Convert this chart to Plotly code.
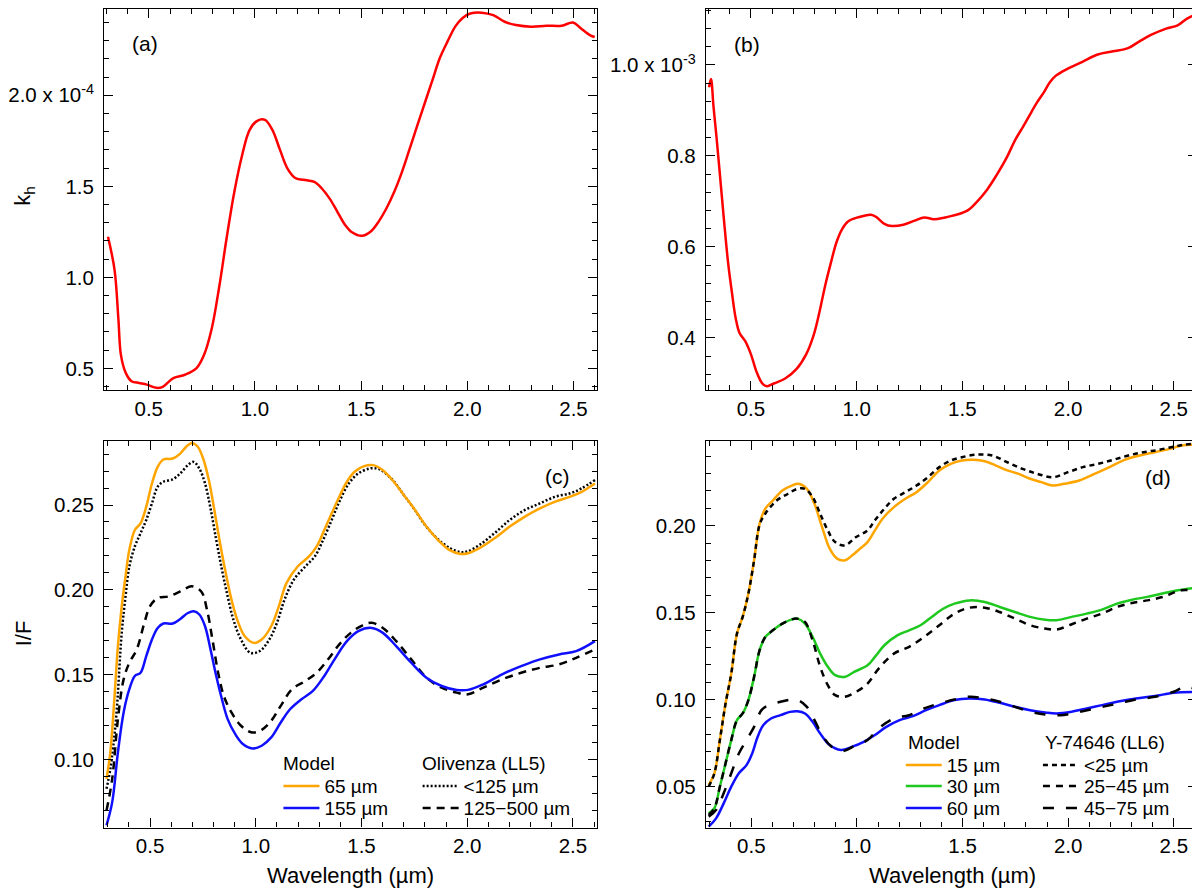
import plotly.graph_objects as go

# ---- panel (a): k_h (units of 1e-4) ----
wl_a = [0.308, 0.339, 0.357, 0.369, 0.392, 0.419, 0.455, 0.491, 0.536, 0.563, 0.616, 0.67, 0.724, 0.76,
        0.796, 0.832, 0.867, 0.903, 0.939, 0.975, 1.011, 1.047, 1.082, 1.118, 1.154, 1.19, 1.244, 1.28,
        1.315, 1.351, 1.387, 1.423, 1.459, 1.504, 1.548, 1.584, 1.62, 1.656, 1.692, 1.728, 1.763, 1.799,
        1.835, 1.871, 1.907, 1.943, 1.978, 2.014, 2.068, 2.122, 2.176, 2.229, 2.301, 2.373, 2.444, 2.498,
        2.534, 2.579, 2.6]
kh_a = [1.223, 1.04, 0.77, 0.573, 0.474, 0.429, 0.42, 0.411, 0.393, 0.397, 0.447, 0.465, 0.50, 0.573,
        0.716, 0.95, 1.219, 1.47, 1.668, 1.81, 1.86, 1.865, 1.81, 1.70, 1.596, 1.546, 1.533, 1.524,
        1.488, 1.434, 1.363, 1.291, 1.246, 1.228, 1.255, 1.309, 1.381, 1.47, 1.578, 1.704, 1.829, 1.955,
        2.081, 2.206, 2.296, 2.377, 2.425, 2.449, 2.454, 2.44, 2.404, 2.386, 2.377, 2.382, 2.382, 2.40,
        2.368, 2.329, 2.32]

# ---- panel (b): k_h (units of 1e-3) ----
wl_b = [0.302, 0.311, 0.323, 0.338, 0.356, 0.374, 0.392, 0.41, 0.428, 0.446, 0.473, 0.5, 0.527, 0.554,
        0.576, 0.608, 0.662, 0.716, 0.761, 0.797, 0.824, 0.851, 0.878, 0.905, 0.932, 0.959, 1.005, 1.068,
        1.095, 1.131, 1.167, 1.221, 1.275, 1.32, 1.365, 1.419, 1.473, 1.527, 1.572, 1.617, 1.662, 1.707,
        1.752, 1.788, 1.815, 1.851, 1.887, 1.914, 1.941, 1.995, 2.068, 2.14, 2.212, 2.284, 2.338, 2.392,
        2.464, 2.518, 2.563, 2.599]
kh_b = [0.951, 0.969, 0.908, 0.837, 0.744, 0.651, 0.565, 0.50, 0.443, 0.411, 0.393, 0.364, 0.325, 0.30,
        0.294, 0.30, 0.311, 0.332, 0.364, 0.407, 0.457, 0.515, 0.565, 0.611, 0.64, 0.656, 0.665, 0.671,
        0.665, 0.651, 0.646, 0.649, 0.658, 0.665, 0.661, 0.665, 0.671, 0.681, 0.701, 0.726, 0.758, 0.794,
        0.837, 0.865, 0.887, 0.916, 0.941, 0.962, 0.976, 0.991, 1.007, 1.023, 1.03, 1.037, 1.052, 1.066,
        1.08, 1.087, 1.102, 1.11]

# ---- panel (c): Olivenza (LL5) ----
wl_c65 = [0.294, 0.312, 0.33, 0.348, 0.366, 0.384, 0.402, 0.428, 0.455, 0.482, 0.509, 0.536, 0.563, 0.607,
          0.643, 0.67, 0.697, 0.724, 0.751, 0.778, 0.804, 0.831, 0.858, 0.885, 0.912, 0.948, 0.992, 1.028,
          1.073, 1.109, 1.145, 1.198, 1.252, 1.288, 1.324, 1.359, 1.395, 1.431, 1.467, 1.512, 1.556, 1.601,
          1.646, 1.70, 1.753, 1.807, 1.861, 1.915, 1.968, 2.004, 2.058, 2.129, 2.201, 2.273, 2.344, 2.416,
          2.487, 2.541, 2.604]
if_c65 = [0.0887, 0.1043, 0.1336, 0.1669, 0.1903, 0.208, 0.2236, 0.2353, 0.2392, 0.249, 0.2627, 0.2725,
          0.2768, 0.2774, 0.2803, 0.2842, 0.2866, 0.2846, 0.2774, 0.2647, 0.2471, 0.2275, 0.2099, 0.1943,
          0.1825, 0.1727, 0.1688, 0.1708, 0.1786, 0.1903, 0.204, 0.2138, 0.2197, 0.2256, 0.2353, 0.2451,
          0.2549, 0.2637, 0.2696, 0.2729, 0.2735, 0.2705, 0.2647, 0.2559, 0.2471, 0.2373, 0.2295, 0.2236,
          0.2212, 0.2216, 0.2246, 0.2304, 0.2373, 0.2432, 0.248, 0.252, 0.2549, 0.2578, 0.2627]

wl_c155 = [0.294, 0.321, 0.348, 0.375, 0.402, 0.428, 0.455, 0.482, 0.509, 0.536, 0.563, 0.607, 0.643, 0.679,
           0.706, 0.733, 0.76, 0.786, 0.813, 0.84, 0.867, 0.903, 0.939, 0.984, 1.028, 1.073, 1.118, 1.162,
           1.216, 1.27, 1.324, 1.377, 1.431, 1.485, 1.548, 1.601, 1.664, 1.735, 1.807, 1.879, 1.95, 2.004,
           2.076, 2.165, 2.255, 2.344, 2.434, 2.515, 2.604]
if_c155 = [0.0613, 0.075, 0.1043, 0.1278, 0.1415, 0.1493, 0.1512, 0.161, 0.1708, 0.1776, 0.1802, 0.1802,
           0.1829, 0.1864, 0.1874, 0.1855, 0.1786, 0.1649, 0.1493, 0.1356, 0.1239, 0.115, 0.1092, 0.1066,
           0.1082, 0.1131, 0.1219, 0.1297, 0.1356, 0.1405, 0.1493, 0.16, 0.1698, 0.1757, 0.1776, 0.1747,
           0.1669, 0.1571, 0.1483, 0.1434, 0.1411, 0.1411, 0.1444, 0.1503, 0.1551, 0.1591, 0.162, 0.1639,
           0.1698]

wl_c_fine = [0.294, 0.312, 0.339, 0.366, 0.384, 0.402, 0.428, 0.455, 0.482, 0.509, 0.536, 0.563, 0.607,
             0.643, 0.679, 0.706, 0.733, 0.76, 0.786, 0.813, 0.84, 0.867, 0.894, 0.93, 0.974, 1.019, 1.064,
             1.1, 1.136, 1.18, 1.234, 1.279, 1.315, 1.359, 1.395, 1.44, 1.485, 1.538, 1.574, 1.60, 1.65,
             1.70, 1.75, 1.80, 1.86, 1.92, 1.97, 2.0, 2.058, 2.129, 2.201, 2.273, 2.344, 2.416, 2.487,
             2.541, 2.604]
if_c_fine = [0.0828, 0.0945, 0.1239, 0.1747, 0.1962, 0.2138, 0.2256, 0.2334, 0.2412, 0.251, 0.2608, 0.2637,
             0.2651, 0.2686, 0.2735, 0.2754, 0.2715, 0.2627, 0.248, 0.2295, 0.2119, 0.1962, 0.1825, 0.1708,
             0.163, 0.164, 0.1708, 0.1806, 0.1943, 0.206, 0.2138, 0.2197, 0.2285, 0.2412, 0.252, 0.2627,
             0.2686, 0.2715, 0.2715, 0.270, 0.2643, 0.2559, 0.2475, 0.2383, 0.230, 0.2245, 0.2222, 0.2226,
             0.2265, 0.2334, 0.2412, 0.2471, 0.251, 0.2549, 0.2569, 0.2598, 0.2647]

wl_c_coarse = [0.294, 0.321, 0.348, 0.375, 0.402, 0.437, 0.473, 0.5, 0.536, 0.589, 0.643, 0.697, 0.742,
               0.769, 0.795, 0.822, 0.849, 0.885, 0.93, 0.983, 1.028, 1.073, 1.118, 1.171, 1.234, 1.288,
               1.342, 1.395, 1.449, 1.503, 1.548, 1.601, 1.664, 1.735, 1.807, 1.879, 1.95, 2.004, 2.076,
               2.165, 2.255, 2.344, 2.434, 2.515, 2.604]
if_c_coarse = [0.070, 0.0887, 0.1239, 0.1473, 0.1571, 0.1649, 0.1806, 0.1904, 0.1952, 0.1962, 0.1991,
               0.2021, 0.1991, 0.1884, 0.1708, 0.1512, 0.1375, 0.1278, 0.120, 0.116, 0.1176, 0.1229,
               0.1317, 0.1415, 0.1463, 0.1512, 0.1591, 0.1679, 0.1747, 0.179, 0.1806, 0.1776, 0.1698,
               0.1591, 0.1483, 0.1424, 0.1395, 0.1385, 0.1424, 0.1473, 0.1512, 0.1541, 0.1561, 0.160,
               0.1649]

# ---- panel (d): Y-74646 (LL6) ----
wl_d15 = [0.298, 0.325, 0.351, 0.378, 0.405, 0.432, 0.459, 0.486, 0.513, 0.539, 0.566, 0.602, 0.647, 0.692,
          0.724, 0.763, 0.799, 0.835, 0.871, 0.906, 0.942, 0.978, 1.014, 1.05, 1.085, 1.121, 1.175, 1.229,
          1.282, 1.336, 1.39, 1.444, 1.497, 1.551, 1.605, 1.658, 1.712, 1.766, 1.82, 1.873, 1.927, 1.981,
          2.052, 2.124, 2.196, 2.267, 2.339, 2.411, 2.482, 2.536, 2.607]
if_d15 = [0.051, 0.0577, 0.0768, 0.0978, 0.115, 0.138, 0.1476, 0.161, 0.1801, 0.2011, 0.2098, 0.2145,
          0.2203, 0.2231, 0.2241, 0.2212, 0.2126, 0.1992, 0.1868, 0.1811, 0.1801, 0.183, 0.1868, 0.1906,
          0.1973, 0.204, 0.2107, 0.2155, 0.2193, 0.2251, 0.2318, 0.2356, 0.2375, 0.2379, 0.2371, 0.2346,
          0.2318, 0.2298, 0.227, 0.2251, 0.2231, 0.2241, 0.226, 0.2298, 0.2337, 0.2379, 0.2404, 0.2423,
          0.2442, 0.2461, 0.2467]

wl_d30 = [0.298, 0.325, 0.351, 0.378, 0.405, 0.432, 0.459, 0.486, 0.513, 0.539, 0.566, 0.602, 0.647, 0.692,
          0.718, 0.754, 0.79, 0.826, 0.862, 0.897, 0.942, 0.987, 1.05, 1.085, 1.13, 1.193, 1.247, 1.301,
          1.354, 1.408, 1.462, 1.533, 1.605, 1.676, 1.748, 1.82, 1.891, 1.945, 2.017, 2.088, 2.16, 2.231,
          2.303, 2.375, 2.446, 2.518, 2.607]
if_d30 = [0.0347, 0.0376, 0.05, 0.0634, 0.0768, 0.0883, 0.0921, 0.0998, 0.1131, 0.1284, 0.136, 0.1399,
          0.1437, 0.1462, 0.1466, 0.1437, 0.1361, 0.1265, 0.1189, 0.1141, 0.1131, 0.116, 0.1198, 0.1246,
          0.1313, 0.1371, 0.1399, 0.1428, 0.1476, 0.1523, 0.1552, 0.1571, 0.1562, 0.1533, 0.1504, 0.1476,
          0.146, 0.1457, 0.1476, 0.1495, 0.1518, 0.1552, 0.1575, 0.1591, 0.161, 0.1629, 0.1644]

wl_d60 = [0.298, 0.333, 0.369, 0.405, 0.441, 0.477, 0.504, 0.53, 0.557, 0.593, 0.638, 0.683, 0.718, 0.754,
          0.79, 0.826, 0.871, 0.924, 0.978, 1.032, 1.085, 1.139, 1.202, 1.265, 1.327, 1.39, 1.462, 1.533,
          1.605, 1.676, 1.748, 1.82, 1.891, 1.945, 2.017, 2.088, 2.16, 2.231, 2.321, 2.411, 2.5, 2.607]
if_d60 = [0.027, 0.0318, 0.0404, 0.05, 0.0577, 0.0624, 0.0691, 0.0787, 0.0854, 0.0892, 0.0911, 0.093,
          0.0934, 0.0921, 0.0873, 0.0806, 0.0739, 0.0711, 0.073, 0.0758, 0.0797, 0.0844, 0.0883, 0.0906,
          0.094, 0.0969, 0.0998, 0.1007, 0.1001, 0.0982, 0.0959, 0.094, 0.0927, 0.0921, 0.0931, 0.095,
          0.0969, 0.0988, 0.1007, 0.1021, 0.104, 0.1045]

wl_d_lt25 = [0.298, 0.325, 0.351, 0.378, 0.405, 0.432, 0.459, 0.486, 0.513, 0.539, 0.566, 0.62, 0.674,
             0.718, 0.754, 0.79, 0.826, 0.862, 0.897, 0.942, 0.996, 1.05, 1.085, 1.13, 1.175, 1.229, 1.282,
             1.336, 1.39, 1.444, 1.497, 1.569, 1.64, 1.712, 1.784, 1.855, 1.927, 1.999, 2.07, 2.142, 2.214,
             2.285, 2.357, 2.428, 2.5, 2.554, 2.607]
if_d_lt25 = [0.050, 0.0577, 0.0768, 0.0978, 0.115, 0.138, 0.1476, 0.161, 0.1801, 0.2005, 0.2069, 0.2145,
             0.2184, 0.2212, 0.2212, 0.2165, 0.2069, 0.1973, 0.1906, 0.1887, 0.1935, 0.1973, 0.2031,
             0.2098, 0.2155, 0.2193, 0.2231, 0.2279, 0.2337, 0.2375, 0.2394, 0.2409, 0.2404, 0.2365,
             0.2327, 0.2298, 0.2279, 0.2308, 0.2337, 0.2356, 0.2379, 0.2404, 0.2423, 0.2436, 0.2455,
             0.2467, 0.2471]

wl_d_25_45 = [0.298, 0.325, 0.351, 0.378, 0.405, 0.432, 0.459, 0.486, 0.513, 0.539, 0.566, 0.602, 0.647,
              0.692, 0.718, 0.754, 0.79, 0.826, 0.862, 0.897, 0.942, 0.996, 1.05, 1.103, 1.175, 1.247,
              1.318, 1.39, 1.462, 1.533, 1.605, 1.676, 1.748, 1.82, 1.891, 1.945, 2.017, 2.088, 2.16,
              2.231, 2.303, 2.375, 2.446, 2.536, 2.607]
if_d_25_45 = [0.0337, 0.0376, 0.05, 0.0634, 0.0768, 0.0883, 0.0921, 0.0998, 0.1131, 0.1284, 0.136, 0.1399,
              0.1437, 0.1462, 0.1466, 0.1447, 0.1342, 0.1189, 0.1084, 0.1026, 0.1017, 0.1045, 0.1093,
              0.1179, 0.1265, 0.1304, 0.1361, 0.1428, 0.1495, 0.1529, 0.1529, 0.1504, 0.1466, 0.1428,
              0.1409, 0.1403, 0.1434, 0.1466, 0.1495, 0.1533, 0.1556, 0.1571, 0.159, 0.1629, 0.1625]

wl_d_45_75 = [0.298, 0.333, 0.369, 0.405, 0.441, 0.477, 0.513, 0.548, 0.584, 0.638, 0.692, 0.727, 0.763,
              0.799, 0.835, 0.88, 0.933, 0.987, 1.05, 1.103, 1.175, 1.247, 1.318, 1.39, 1.462, 1.533,
              1.605, 1.676, 1.748, 1.82, 1.891, 1.963, 2.035, 2.106, 2.178, 2.249, 2.321, 2.411, 2.5,
              2.554, 2.607]
if_d_45_75 = [0.0328, 0.0366, 0.0462, 0.0577, 0.0691, 0.0768, 0.0844, 0.094, 0.0969, 0.0988, 0.1001,
              0.0994, 0.0959, 0.0883, 0.0797, 0.073, 0.0705, 0.0734, 0.0768, 0.0835, 0.0892, 0.0911,
              0.095, 0.0978, 0.1001, 0.1017, 0.1007, 0.0988, 0.0959, 0.0931, 0.0915, 0.0911, 0.0925,
              0.0944, 0.0963, 0.0982, 0.1001, 0.1017, 0.1046, 0.1074, 0.1059]

ORANGE = "#FFA500"
GREEN = "#1EC81E"
BLUE = "#1010FF"
RED = "#FF0000"
FONT = "Liberation Sans, Arial, sans-serif"
LW = 2.5

# the page body adds an 8px margin, so the figure is a bit smaller and positions are page pixels - 8
W, H = 1192, 880


def px(x):
    return (x - 8) / W


def py(y):
    return 1 - (y - 8) / H


fig = go.Figure()

fig.add_trace(go.Scatter(x=wl_a, y=kh_a, mode="lines", line=dict(color=RED, width=LW, shape="spline"),
                         xaxis="x", yaxis="y", showlegend=False))
fig.add_trace(go.Scatter(x=wl_b, y=kh_b, mode="lines", line=dict(color=RED, width=LW, shape="spline"),
                         xaxis="x2", yaxis="y2", showlegend=False))

# panel (c): each legend row is its own little legend so the rows can be spaced like the original
fig.add_trace(go.Scatter(x=wl_c_fine, y=if_c_fine, mode="lines", name="<125 µm",
                         line=dict(color="black", width=2.5, dash="2px,2px", shape="spline"),
                         xaxis="x3", yaxis="y3", legend="legend3"))
fig.add_trace(go.Scatter(x=wl_c_coarse, y=if_c_coarse, mode="lines", name="125−500 µm",
                         line=dict(color="black", width=2.5, dash="8px,6px", shape="spline"),
                         xaxis="x3", yaxis="y3", legend="legend4"))
fig.add_trace(go.Scatter(x=wl_c65, y=if_c65, mode="lines", name="65 µm",
                         line=dict(color=ORANGE, width=LW, shape="spline"),
                         xaxis="x3", yaxis="y3", legend="legend"))
fig.add_trace(go.Scatter(x=wl_c155, y=if_c155, mode="lines", name="155 µm",
                         line=dict(color=BLUE, width=LW, shape="spline"),
                         xaxis="x3", yaxis="y3", legend="legend2"))

# panel (d)
fig.add_trace(go.Scatter(x=wl_d15, y=if_d15, mode="lines", name="15 µm",
                         line=dict(color=ORANGE, width=LW, shape="spline"),
                         xaxis="x4", yaxis="y4", legend="legend5"))
fig.add_trace(go.Scatter(x=wl_d30, y=if_d30, mode="lines", name="30 µm",
                         line=dict(color=GREEN, width=LW, shape="spline"),
                         xaxis="x4", yaxis="y4", legend="legend6"))
fig.add_trace(go.Scatter(x=wl_d60, y=if_d60, mode="lines", name="60 µm",
                         line=dict(color=BLUE, width=LW, shape="spline"),
                         xaxis="x4", yaxis="y4", legend="legend7"))
fig.add_trace(go.Scatter(x=wl_d_lt25, y=if_d_lt25, mode="lines", name="<25 µm",
                         line=dict(color="black", width=2.5, dash="5px,4px", shape="spline"),
                         xaxis="x4", yaxis="y4", legend="legend8"))
fig.add_trace(go.Scatter(x=wl_d_25_45, y=if_d_25_45, mode="lines", name="25−45 µm",
                         line=dict(color="black", width=2.5, dash="7px,6px", shape="spline"),
                         xaxis="x4", yaxis="y4", legend="legend9"))
fig.add_trace(go.Scatter(x=wl_d_45_75, y=if_d_45_75, mode="lines", name="45−75 µm",
                         line=dict(color="black", width=2.5, dash="11px,12px", shape="spline"),
                         xaxis="x4", yaxis="y4", legend="legend10"))

xl = [px(97.7), px(593.3)]
xr = [px(703.0), px(1197.0)]
yt = [py(389.3), 1.0]
yb = [py(827.5), py(440)]
TICKFONT = dict(size=20.5, color="black")


def xax(dom, rng, anchor):
    return dict(domain=dom, range=rng, anchor=anchor, dtick=0.5, tick0=0, tickformat=".1f",
                ticks="inside", ticklen=9, tickwidth=1.2, tickcolor="black",
                minor=dict(dtick=0.1, tick0=0, ticks="inside", ticklen=5, tickcolor="black", tickwidth=1.2),
                showline=True, linecolor="black", linewidth=1.2, mirror="allticks",
                showgrid=False, zeroline=False, tickfont=TICKFONT)


def yax(dom, rng, anchor, minor, **kw):
    d = dict(domain=dom, range=rng, anchor=anchor, ticklabelstandoff=5,
             ticks="inside", ticklen=9, tickwidth=1.2, tickcolor="black",
             minor=dict(dtick=minor, tick0=0, ticks="inside", ticklen=5, tickcolor="black", tickwidth=1.2),
             showline=True, linecolor="black", linewidth=1.2, mirror="allticks",
             showgrid=False, zeroline=False, tickfont=TICKFONT)
    d.update(kw)
    return d


def leg(x, y):
    # x: page x where the sample line starts, y: page y of the row centre
    return dict(bgcolor="rgba(0,0,0,0)", font=dict(size=19, color="black"), borderwidth=0,
                x=px(x - 5), y=py(y), xanchor="left", yanchor="middle", itemwidth=36)


fig.update_layout(
    width=W, height=H, margin=dict(l=0, r=0, t=0, b=0),
    paper_bgcolor="white", plot_bgcolor="white",
    font=dict(family=FONT, size=19, color="black"),
    xaxis=xax(xl, [0.29, 2.61], "y"),
    yaxis=yax(yt, [0.382, 2.474], "x", 0.1, tickmode="array", tickvals=[0.5, 1.0, 1.5, 2.0],
              ticktext=["0.5", "1.0", "1.5", "2.0 x 10<sup>-4</sup>"]),
    xaxis2=xax(xr, [0.287, 2.61], "y2"),
    yaxis2=yax(yt, [0.286, 1.123], "x2", 0.04, tickmode="array", tickvals=[0.4, 0.6, 0.8, 1.0],
               ticktext=["0.4", "0.6", "0.8", "1.0 x 10<sup>-3</sup>"]),
    xaxis3=xax(xl, [0.283, 2.613], "y3"),
    yaxis3=yax(yb, [0.060, 0.288], "x3", 0.01, dtick=0.05, tick0=0, tickformat=".2f"),
    xaxis4=xax(xr, [0.285, 2.61], "y4"),
    yaxis4=yax(yb, [0.0265, 0.249], "x4", 0.01, dtick=0.05, tick0=0, tickformat=".2f"),
    legend=leg(278, 786), legend2=leg(278, 808),
    legend3=leg(418, 786), legend4=leg(418, 808),
    legend5=leg(904, 765), legend6=leg(904, 786), legend7=leg(904, 808),
    legend8=leg(1042, 765), legend9=leg(1042, 786), legend10=leg(1042, 808),
)

# legend headers
for text, x, y in [("Model", 275.5, 763), ("Olivenza (LL5)", 415.4, 763),
                   ("Model", 904, 742), ("Y-74646 (LL6)", 1042, 742)]:
    fig.add_annotation(text=text, xref="paper", yref="paper", x=px(x), y=py(y), showarrow=False,
                       xanchor="left", yanchor="middle", font=dict(size=19, color="black"))

# panel letters
for text, xr_, yr_, x, y in [("(a)", "x", "y", 0.482, 2.287), ("(b)", "x2", "y2", 0.482, 1.044),
                             ("(c)", "x3", "y3", 2.425, 0.2666), ("(d)", "x4", "y4", 2.425, 0.228)]:
    fig.add_annotation(text=text, xref=xr_, yref=yr_, x=x, y=y, showarrow=False,
                       font=dict(size=21, color="black"), xanchor="center", yanchor="middle")

fig.add_annotation(text="k<sub>h</sub>", xref="paper", yref="paper", x=px(17), y=py(195),
                   textangle=-90, showarrow=False, font=dict(size=22), xanchor="center", yanchor="middle")
fig.add_annotation(text="I/F", xref="paper", yref="paper", x=px(16), y=py(633),
                   textangle=-90, showarrow=False, font=dict(size=22), xanchor="center", yanchor="middle")
fig.add_annotation(text="Wavelength (µm)", xref="paper", yref="paper", x=px(345.5), y=py(875),
                   showarrow=False, font=dict(size=22), xanchor="center", yanchor="middle")
fig.add_annotation(text="Wavelength (µm)", xref="paper", yref="paper", x=px(951), y=py(875),
                   showarrow=False, font=dict(size=22), xanchor="center", yanchor="middle")

fig.write_html("out.html")
